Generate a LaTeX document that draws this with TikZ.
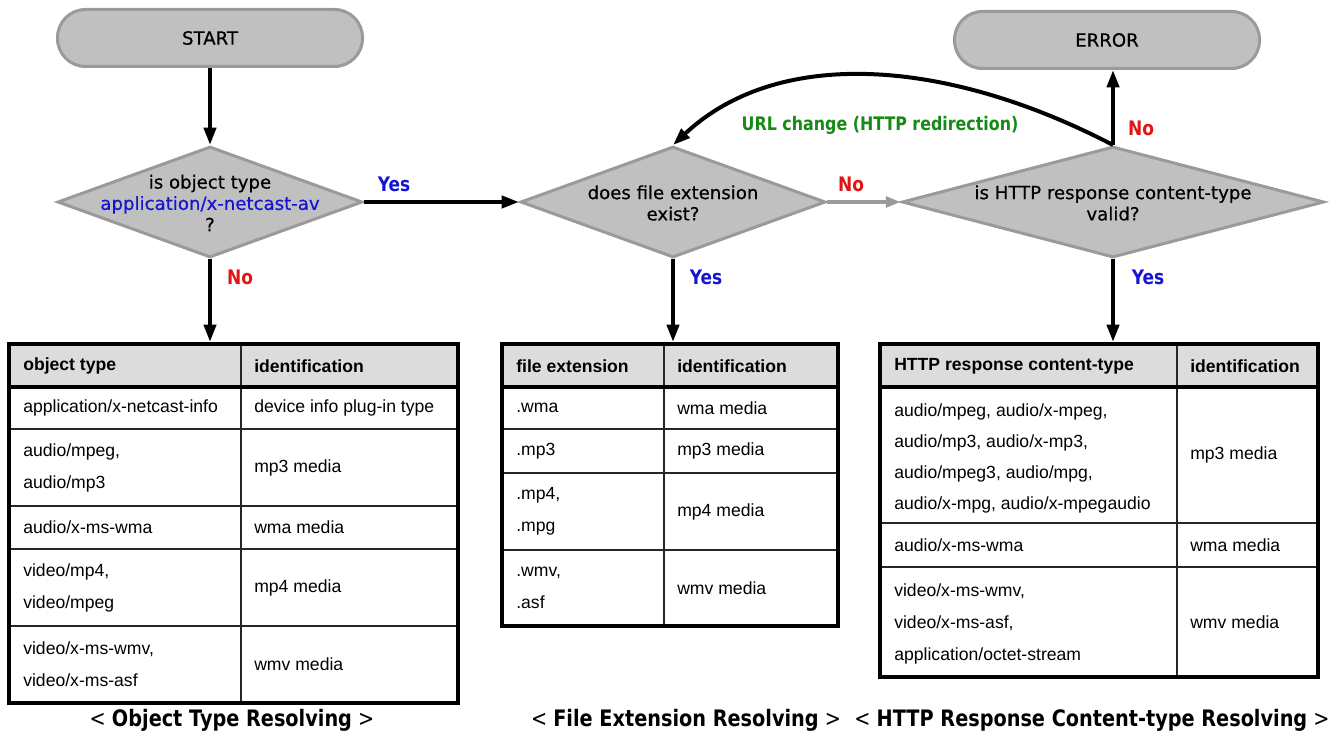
\documentclass[tikz,border=0pt]{standalone}
\usepackage{fontspec}
\setmainfont{DejaVu Sans}
\newfontfamily\tabfont{Liberation Sans}
\newfontfamily\shapefont[FakeBold=0.5]{DejaVu Sans}
\newfontfamily\labfont[FakeStretch=0.85]{DejaVu Sans}
\usetikzlibrary{arrows.meta}
\usetikzlibrary{shapes.geometric}
\usetikzlibrary{fit}

\definecolor{boxgray}{HTML}{C0C0C0}
\definecolor{rimgray}{HTML}{9A9A9A}
\definecolor{headgray}{HTML}{DCDCDC}
\definecolor{yesblue}{HTML}{1414D2}
\definecolor{nored}{HTML}{E51414}
\definecolor{urlgreen}{HTML}{168A16}

\begin{document}
\begin{tikzpicture}[x=0.75pt, y=-0.75pt,
    terminal/.style={rectangle, rounded corners=21pt, fill=boxgray, draw=rimgray, line width=2.25pt,
      minimum width=228.75pt, minimum height=42.75pt, font=\shapefont\fontsize{13.6}{16}\selectfont},
    decision/.style={diamond, fill=boxgray, draw=rimgray, line width=2.25pt, inner sep=0pt,
      minimum width=228.75pt, minimum height=83.25pt},
    dtext/.style={align=center, inner sep=0pt, font=\shapefont\fontsize{13.6}{16}\selectfont},
    arr/.style={line width=3pt, -{Triangle[length=13pt,width=9pt]}},
    yeslab/.style={text=yesblue, font=\labfont\bfseries\fontsize{15}{18}\selectfont},
    nolab/.style={text=nored, font=\labfont\bfseries\fontsize{15}{18}\selectfont},
    tabframe/.style={draw, line width=3pt, inner sep=0pt},
    tabrule/.style={line width=1.2pt, draw=black!85},
    cell/.style={anchor=west, align=left, inner sep=0pt, font=\tabfont\fontsize{13.2}{24}\selectfont},
    head/.style={cell, font=\tabfont\bfseries\fontsize{13.2}{24}\selectfont},
    capt/.style={font=\labfont\fontsize{17}{20}\selectfont}]
  \useasboundingbox (0,0) rectangle (1344,738);

  % flow
  \node[terminal] (start) at (210,38) {START};
  \node[terminal] (err) at (1107,40) {ERROR};
  \node[decision] (d1) at (210,202) {};
  \node[dtext] (d1t) at (210,203) {is object type\\\textcolor{yesblue}{application/x-netcast-av}\\?};
  \node[decision] (d2) at (673,202) {};
  \node[dtext] (d2t) at (673,203) {does file extension\\exist?};
  \node[decision, minimum width=316.5pt] (d3) at (1113,202) {};
  \node[dtext] (d3t) at (1113,203) {is HTTP response content-type\\valid?};

  % tables
  \fill[headgray] (9,344) rectangle (458,387);
  \foreach \y in {429,506,549,626} \draw[tabrule] (9,\y) -- (458,\y);
  \draw[tabrule] (241,344) -- (241,703);
  \draw[line width=3pt] (9,387) -- (458,387);
  \node[tabframe, fit={(9,344) (458,703)}] (tab1) {};
  \node[head] (ot-h1) at (23,366) {object type};
  \node[head] (ot-h2) at (254,366) {identification};
  \foreach \y/\a/\b [count=\i] in {408/{application/x-netcast-info}/{device info plug-in type},
      467.5/{audio/mpeg,\\audio/mp3}/{mp3 media}, 527.5/{audio/x-ms-wma}/{wma media},
      587.5/{video/mp4,\\video/mpeg}/{mp4 media}, 664.5/{video/x-ms-wmv,\\video/x-ms-asf}/{wmv media}} {
    \node[cell] (ot-\i a) at (23,\y) {\a};
    \node[cell] (ot-\i b) at (254,\y) {\b};
  }

  \fill[headgray] (502,344) rectangle (838,387);
  \foreach \y in {429,473,550} \draw[tabrule] (502,\y) -- (838,\y);
  \draw[tabrule] (664,344) -- (664,626);
  \draw[line width=3pt] (502,387) -- (838,387);
  \node[tabframe, fit={(502,344) (838,626)}] (tab2) {};
  \node[head] (fe-h1) at (516,366) {file extension};
  \node[head] (fe-h2) at (677,366) {identification};
  \foreach \y/\a/\b [count=\i] in {408/{.wma}/{wma media}, 451/{.mp3}/{mp3 media},
      511.5/{.mp4,\\.mpg}/{mp4 media}, 588/{.wmv,\\.asf}/{wmv media}} {
    \node[cell] (fe-\i a) at (516,\y) {\a};
    \node[cell] (fe-\i b) at (677,\y) {\b};
  }

  \fill[headgray] (880,344) rectangle (1318,387);
  \foreach \y in {523,567} \draw[tabrule] (880,\y) -- (1318,\y);
  \draw[tabrule] (1177,344) -- (1177,677);
  \draw[line width=3pt] (880,387) -- (1318,387);
  \node[tabframe, fit={(880,344) (1318,677)}] (tab3) {};
  \node[head] (ct-h1) at (894,366) {HTTP response content-type};
  \node[head] (ct-h2) at (1190,366) {identification};
  \node[cell, font=\tabfont\fontsize{13.2}{23.25}\selectfont] (ct-1a) at (894,458)
    {audio/mpeg, audio/x-mpeg,\\audio/mp3, audio/x-mp3,\\audio/mpeg3, audio/mpg,\\audio/x-mpg, audio/x-mpegaudio};
  \node[cell] (ct-1b) at (1190,455) {mp3 media};
  \node[cell] (ct-2a) at (894,545) {audio/x-ms-wma};
  \node[cell] (ct-2b) at (1190,545) {wma media};
  \node[cell] (ct-3a) at (894,624) {video/x-ms-wmv,\\video/x-ms-asf,\\application/octet-stream};
  \node[cell] (ct-3b) at (1190,622) {wmv media};

  % connectors
  \draw[arr] (start) -- (d1);
  \draw[arr] (d1.east) -- (d2.west);
  \draw[line width=2.6pt, rimgray, -{Triangle[length=11pt,width=8pt]}] (d2.east) -- (d3.west);
  \draw[arr] (d1.south) -- (d1.south |- tab1.north);
  \draw[arr] (d2.south) -- (d2.south |- tab2.north);
  \draw[arr] (d3.south) -- (d3.south |- tab3.north);
  \draw[arr] (d3.north) -- (d3.north |- err.south);
  \draw[arr] (d3.north) .. controls (950,60) and (780,45) .. (d2.north);

  \node[yeslab] (y1) at (394,184) {Yes};
  \node[nolab] (n1) at (240,277) {No};
  \node[nolab] (n2) at (851,184) {No};
  \node[yeslab] (y2) at (706,277) {Yes};
  \node[yeslab] (y3) at (1148,277) {Yes};
  \node[nolab] (n3) at (1141,128) {No};
  \node[text=urlgreen, font=\labfont\bfseries\fontsize{14}{16}\selectfont] (url) at (880,125) {URL change (HTTP redirection)};

  \node[capt] (c1) at (232,720) {< \textbf{Object Type Resolving} >};
  \node[capt] (c2) at (686,720) {< \textbf{File Extension Resolving} >};
  \node[capt] (c3) at (1092,720) {< \textbf{HTTP Response Content-type Resolving} >};
\end{tikzpicture}
\end{document}
